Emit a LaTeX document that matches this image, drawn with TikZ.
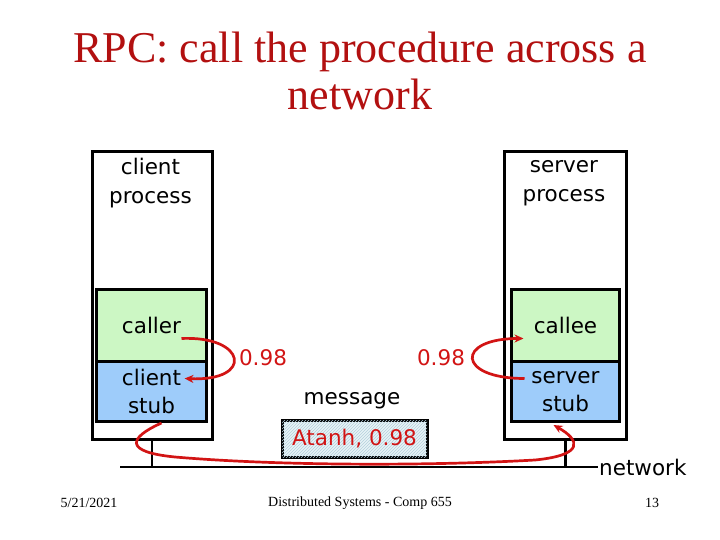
\documentclass[tikz,border=0pt]{standalone}
\usepackage{fontspec}
\setmainfont{Liberation Serif}
\newfontfamily\bodyfont{DejaVu Sans}
\usetikzlibrary{arrows.meta,patterns,calc}
\definecolor{titlered}{RGB}{178,16,16}
\definecolor{arrowred}{RGB}{210,20,20}
\definecolor{callergreen}{RGB}{204,247,196}
\definecolor{stubblue}{RGB}{158,204,250}
\definecolor{msgfill}{RGB}{232,243,247}
\definecolor{hatchcol}{RGB}{180,208,220}
\begin{document}
\begin{tikzpicture}[x=1pt,y=-1pt,
  proc/.style={draw, line width=3pt, fill=white, inner sep=0pt, anchor=north west, minimum height=288pt},
  inbox/.style={draw, line width=3pt, inner sep=0pt, anchor=north west, align=center,
     font=\bodyfont\fontsize{21.5}{28}\selectfont},
  body/.style={font=\bodyfont\fontsize{21.5}{29}\selectfont, align=center, inner sep=1pt},
  redtext/.style={body, text=arrowred},
  redarrow/.style={draw=arrowred, line width=2.7pt, -{Stealth[length=9pt,width=8pt]}},
  wire/.style={draw, line width=2.6pt},
  foot/.style={font=\fontsize{14}{16}\selectfont, inner sep=0pt}
]
\useasboundingbox (0,0) rectangle (720,540);

% title
\node[font=\fontsize{44}{48}\selectfont, text=titlered, anchor=base, inner sep=0pt] (t1) at (360,63) {RPC: call the procedure across a};
\node[font=\fontsize{44}{48}\selectfont, text=titlered, anchor=base, inner sep=0pt] (t2) at (360,110) {network};

% processes
\node[proc, minimum width=120pt] (cp) at (90.5,150) {};
\node[proc, minimum width=122pt] (sp) at (503,150) {};
\node[body] (cpl) at (150.5,183) {client\\process};
\node[body] (spl) at (564,183) {server\\process};

% inner boxes
\node[inbox, fill=callergreen, minimum width=110pt, minimum height=72pt] (caller) at (95,288) {caller};
\node[inbox, fill=stubblue, minimum width=110pt, minimum height=60pt] (cstub) at (95,360) {client\\stub};
\node[inbox, fill=callergreen, minimum width=108pt, minimum height=72pt] (callee) at (510,288) {callee};
\node[inbox, fill=stubblue, minimum width=108pt, minimum height=60pt] (sstub) at (510,360) {server\\stub};

% network
\coordinate (nl) at (120,467);
\coordinate (nr) at (598,467);
\draw[wire] (nl) -- (nr);
\draw[wire] (cp.south) -- (cp.south |- nl);
\draw[wire] (sp.south) -- (sp.south |- nl);
\node[body, anchor=west] (netl) at (nr) {network};

% message
\node[body] (msgl) at (352,401) {message};
\node[draw, line width=3pt, fill=msgfill, postaction={pattern=north east lines, pattern color=hatchcol},
      minimum width=145pt, minimum height=37pt, inner sep=0pt,
      font=\bodyfont\fontsize{21.5}{28}\selectfont, text=arrowred] (msg) at (354.5,438.5) {Atanh, 0.98};

% values
\node[redtext] (l98) at (263,358) {0.98};
\node[redtext] (r98) at (441,358) {0.98};

% arrows
\draw[redarrow] ($(caller.center)+(30,13)$) .. controls +(65,-3) and +(70,3) .. ($(cstub.center)+(33,-13)$);
\draw[redarrow] ($(sstub.center)+(-41,-13)$) .. controls +(-68,0) and +(-68,0) .. ($(callee.center)+(-42,13)$);
\draw[redarrow] ($(cstub.south)+(10,0)$) .. controls (128,438) and (124,452) .. (175,457)
   .. controls (280,466) and (430,466) .. (535,460)
   .. controls (585,455) and (580,440) .. ($(sstub.south)+(-12,2)$);

% footer
\node[foot] (date) at (89,503) {5/21/2021};
\node[foot] (course) at (360,503) {Distributed Systems - Comp 655};
\node[foot] (page) at (652,503) {13};
\end{tikzpicture}
\end{document}
